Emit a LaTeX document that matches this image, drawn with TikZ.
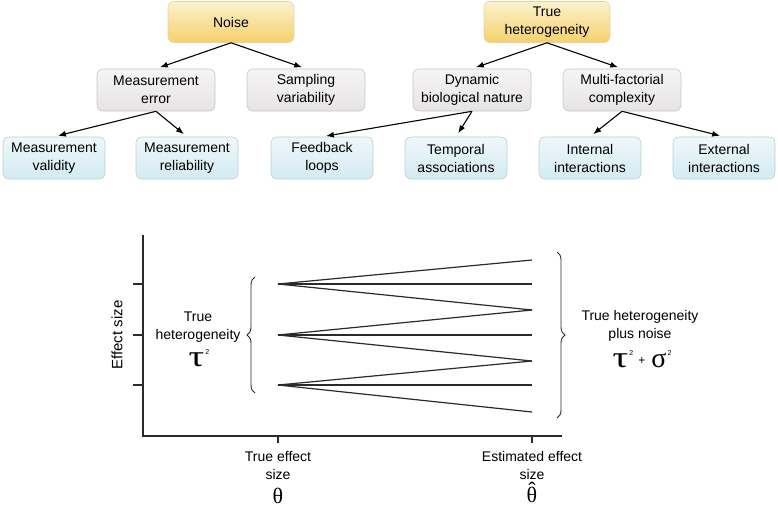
\documentclass[tikz,border=0pt]{standalone}
\usepackage{fontspec}
\setmainfont{Liberation Sans}
\newfontfamily\greekfont{Liberation Serif}
\usetikzlibrary{arrows.meta,decorations.pathreplacing}

\definecolor{noiseTop}{HTML}{FCF2D0}
\definecolor{noiseBot}{HTML}{F6D16A}
\definecolor{noiseLine}{HTML}{E2D6A8}
\definecolor{greyTop}{HTML}{F6F5F5}
\definecolor{greyBot}{HTML}{E6E3E3}
\definecolor{greyLine}{HTML}{C8C6C6}
\definecolor{blueTop}{HTML}{EEF7FA}
\definecolor{blueBot}{HTML}{D3EBF2}
\definecolor{blueLine}{HTML}{BCD0D6}
\definecolor{plotLine}{HTML}{2A2A2A}

\newcommand{\grk}[2][30]{{\greekfont\fontsize{#1}{#1}\selectfont #2}}
\newcommand{\widetau}{\grk{\scalebox{1.3}[1]{τ}}}
\newcommand{\sqr}{\raisebox{12pt}{\fontsize{7}{7}\selectfont\,2}}
\newcommand{\hatted}[1]{\ooalign{#1\cr\hidewidth\raisebox{5pt}{ˆ}\hidewidth\cr}}

\begin{document}
\begin{tikzpicture}[x=1pt,y=-1pt]
  \tikzstyle{every node}+=[inner sep=2pt]
  \tikzstyle{box}=[draw, line width=0.6pt, rounded corners=6pt, align=center,
    font=\fontsize{14}{18}\selectfont, minimum height=42pt]
  \tikzstyle{topbox}=[box, draw=noiseLine, top color=noiseTop, bottom color=noiseBot, minimum width=126pt, minimum height=41pt]
  \tikzstyle{midbox}=[box, draw=greyLine, top color=greyTop, bottom color=greyBot, minimum width=118pt]
  \tikzstyle{leafbox}=[box, draw=blueLine, top color=blueTop, bottom color=blueBot, minimum width=102pt]
  \tikzstyle{arr}=[-{Latex[length=8pt,width=6pt]}, line width=1.1pt, shorten >=4pt]
  \tikzstyle{trace}=[plotLine, line width=1.2pt]
  \tikzstyle{axis}=[plotLine, line width=1.2pt]
  \tikzstyle{brc}=[plotLine, line width=0.9pt, decorate, decoration={brace,amplitude=8pt}]
  \tikzstyle{lbl}=[align=center, font=\fontsize{14}{18}\selectfont, inner sep=1pt]
  \tikzstyle{sym}=[inner sep=0pt]
  \useasboundingbox (0,0) rectangle (778,507);

  % tree of sources
  \node[topbox] (noise) at (231,22) {Noise};
  \node[topbox] (truehet) at (547,22) {True\\heterogeneity};
  \node[midbox] (measerr) at (156,90) {Measurement\\error};
  \node[midbox] (sampvar) at (306,90) {Sampling\\variability};
  \node[midbox] (dynbio) at (472,90) {Dynamic\\biological nature};
  \node[midbox] (multifac) at (622,90) {Multi-factorial\\complexity};
  \node[leafbox] (measval) at (54,158) {Measurement\\validity};
  \node[leafbox] (measrel) at (187,158) {Measurement\\reliability};
  \node[leafbox] (feedback) at (322,158) {Feedback\\loops};
  \node[leafbox] (temporal) at (456,158) {Temporal\\associations};
  \node[leafbox] (internal) at (590,158) {Internal\\interactions};
  \node[leafbox] (external) at (724,158) {External\\interactions};

  \draw[arr] (noise.south) -- (measerr.north);
  \draw[arr] (noise.south) -- (sampvar.north);
  \draw[arr] (truehet.south) -- (dynbio.north);
  \draw[arr] (truehet.south) -- (multifac.north);
  \draw[arr] (measerr.south) -- (measval.north);
  \draw[arr] (measerr.south) -- (measrel.north);
  \draw[arr] (dynbio.south) -- (feedback.north);
  \draw[arr] (dynbio.south) -- (temporal.north);
  \draw[arr] (multifac.south) -- (internal.north);
  \draw[arr] (multifac.south) -- (external.north);

  % effect size plot
  \draw[axis] (143,235) -- (143,436) -- (562,436);
  \foreach \y in {284,335,385}
    \draw[axis] (133,\y) -- (143,\y);
  \foreach \x in {278,532}
    \draw[axis] (\x,436) -- (\x,443);

  \foreach \y [count=\i] in {284,335,385}
    \coordinate (t\i) at (278,\y);
  \foreach \y [count=\i] in {260,284,310,335,361,385,412}
    \coordinate (e\i) at (532,\y);
  \foreach \i in {1,2,3}
    \foreach \j in {0,1,2} {
      \pgfmathtruncatemacro\k{2*\i-1+\j}
      \draw[trace] (t\i) -- (e\k);
    }

  \coordinate (lbrcA) at (255,393);
  \coordinate (lbrcB) at (255,277);
  \coordinate (rbrcA) at (557,252);
  \coordinate (rbrcB) at (557,418);
  \draw[brc] (lbrcA) -- (lbrcB);
  \draw[brc] (rbrcA) -- (rbrcB);

  \node[lbl, rotate=90, font=\fontsize{15}{18}\selectfont] (ylab) at (117,335) {Effect size};
  \node[lbl] (lhet) at (198,327) {True\\heterogeneity};
  \node[sym] (ltau) at (199,358) {\widetau\sqr};
  \node[lbl] (rhet) at (640,326) {True heterogeneity\\plus noise};
  \node[sym] (rtau) at (642,359) {\widetau\sqr\hspace{5pt}\raisebox{3pt}{\fontsize{12}{12}\selectfont +}\hspace{6pt}\grk[28]{σ}\sqr};
  \node[lbl] (xtrue) at (278,465) {True effect\\size};
  \node[sym] (theta) at (278,496) {\grk[22]{θ}};
  \node[lbl] (xest) at (532,465) {Estimated effect\\size};
  \node[sym] (thetahat) at (532,495) {\grk[22]{\hatted{θ}}};
\end{tikzpicture}
\end{document}
